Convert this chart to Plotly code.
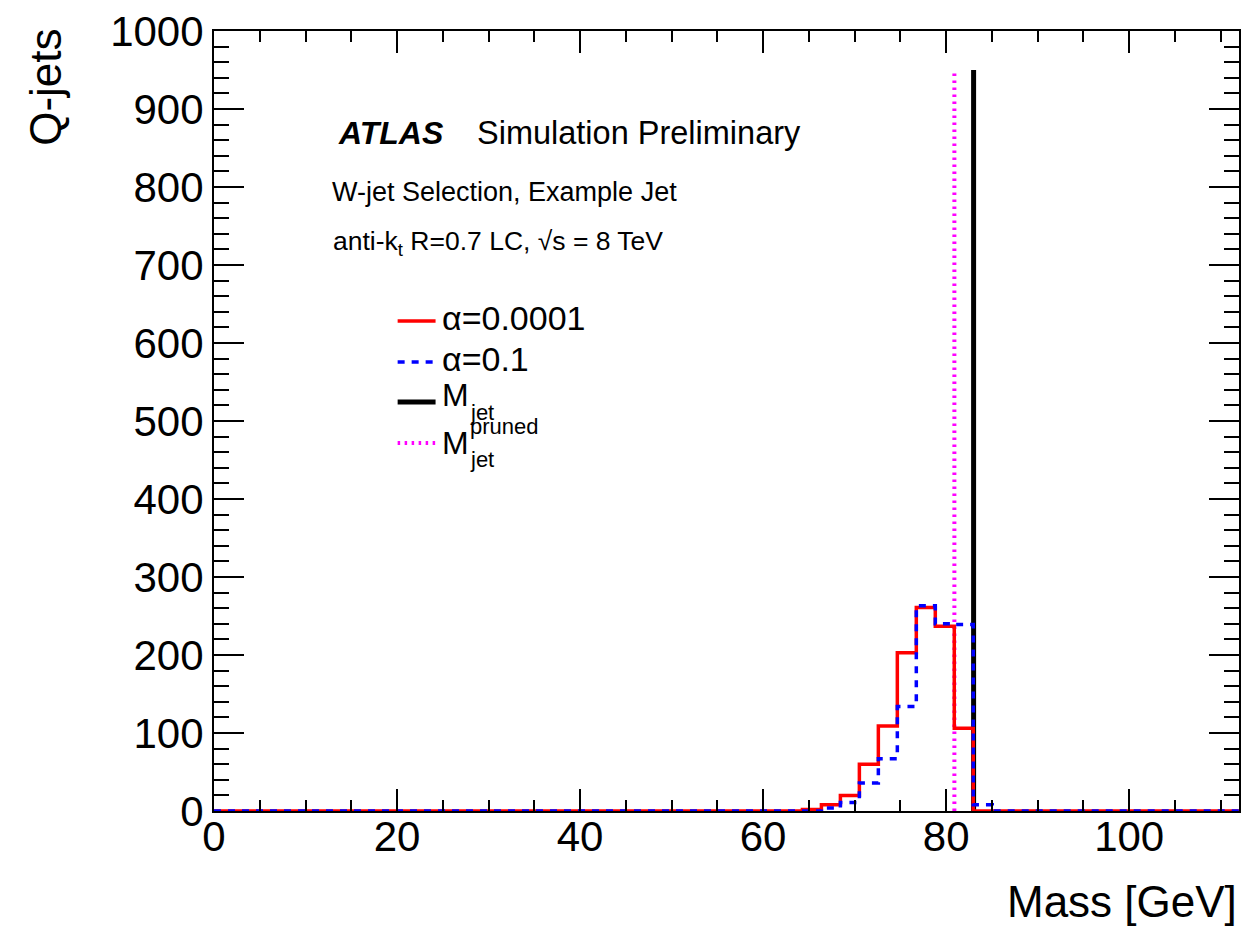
import plotly.graph_objects as go

# ---------------- data ----------------
x_min, x_max, n_bins = 0.0, 112.0, 54
bin_width = (x_max - x_min) / n_bins
bin_edges = [x_min + i * bin_width for i in range(n_bins + 1)]

# Q-jet mass distributions (counts per bin, 54 bins over 0-112 GeV)
counts_alpha_0001 = [0] * 31 + [2, 8, 20, 60, 109, 203, 261, 237, 106] + [0] * 14
counts_alpha_01 = [0] * 32 + [4, 11, 36, 67, 134, 263, 240, 239, 8] + [0] * 13

m_jet = 83.0
m_jet_pruned = 80.9
marker_line_height = 950

x_ticks = [0, 20, 40, 60, 80, 100]
y_ticks = [0, 100, 200, 300, 400, 500, 600, 700, 800, 900, 1000]

# ---------------- styling helpers ----------------
FONT = "Liberation Sans"
FIG_W, FIG_H = 1247, 928
PX_L, PX_R, PY_T, PY_B = 214, 1241, 31, 811  # plot area in pixels


def px(x):
    return (x - PX_L) / (PX_R - PX_L)


def py(y):
    return (PY_B - y) / (PY_B - PY_T)


def step(counts):
    return bin_edges, list(counts) + [counts[-1]]


fig = go.Figure()

RED = dict(color="#ff0000", width=3.5)
BLUE = dict(color="#0000ff", width=3.5, dash="7px,7px")
BLACK = dict(color="#000000", width=5)
MAGENTA = dict(color="#ff00ff", width=4, dash="2.5px,4.5px")

fig.add_trace(go.Scatter(x=[m_jet_pruned, m_jet_pruned], y=[0, marker_line_height],
                         mode="lines", line=MAGENTA, showlegend=False, hoverinfo="skip"))
fig.add_trace(go.Scatter(x=[m_jet, m_jet], y=[0, marker_line_height],
                         mode="lines", line=BLACK, showlegend=False, hoverinfo="skip"))
xr, yr = step(counts_alpha_0001)
fig.add_trace(go.Scatter(x=xr, y=yr, mode="lines", line=dict(**RED, shape="hv"),
                         showlegend=False, name="α=0.0001"))
xb, yb = step(counts_alpha_01)
fig.add_trace(go.Scatter(x=xb, y=yb, mode="lines", line=dict(**BLUE, shape="hv"),
                         showlegend=False, name="α=0.1"))

annotations = []


def text(x, y, s, size, xanchor="left", yanchor="middle", angle=0):
    annotations.append(dict(x=px(x), y=py(y), xref="paper", yref="paper", text=s,
                            showarrow=False, xanchor=xanchor, yanchor=yanchor,
                            textangle=angle, borderpad=0,
                            font=dict(family=FONT, size=size, color="black")))


# labels
text(337, 133, "<b><i>ATLAS</i></b>", 32)
text(477, 133, "Simulation Preliminary", 32.5)
text(331, 192, "W-jet Selection, Example Jet", 27)
text(332, 243, "anti-k<sub>t</sub> R=0.7 LC, √s = 8 TeV", 26.5)

# custom legend
shapes = []


def legline(y, style):
    d = dict(type="line", xref="paper", yref="paper", x0=px(398), x1=px(436),
             y0=py(y), y1=py(y), line=dict(color=style["color"], width=style["width"]))
    if "dash" in style:
        d["line"]["dash"] = style["dash"]
    shapes.append(d)


legline(321, RED)
legline(362, BLUE)
legline(402, BLACK)
legline(443, MAGENTA)
text(441, 318, "α=0.0001", 34)
text(441, 359, "α=0.1", 34)
text(441, 395, "M", 32)
text(469, 412, "jet", 22)
text(441, 443, "M", 32)
text(469, 426, "pruned", 22)
text(469, 459, "jet", 22)

# axis titles
text(1240, 901, "Mass [GeV]", 44, xanchor="right")
text(45, 28, "Q-jets", 44, xanchor="center", yanchor="top", angle=-90)

axis_common = dict(showline=True, linecolor="black", linewidth=2, mirror="allticks",
                   ticks="inside", tickcolor="black", tickwidth=2,
                   showgrid=False, zeroline=False, ticklabeloverflow="allow",
                   tickfont=dict(family=FONT, size=42, color="black"))

fig.update_layout(
    width=FIG_W, height=FIG_H,
    margin=dict(l=PX_L, r=FIG_W - PX_R, t=PY_T, b=FIG_H - PY_B),
    plot_bgcolor="white", paper_bgcolor="white",
    xaxis=dict(range=[x_min, x_max], tickvals=x_ticks, ticklen=22, ticklabelstandoff=-12,
               minor=dict(dtick=5, tick0=0, ticks="inside", ticklen=11, tickwidth=1.5, tickcolor="black"),
               **axis_common),
    yaxis=dict(range=[0, 1000], tickvals=y_ticks, ticklen=30,
               minor=dict(dtick=20, tick0=0, ticks="inside", ticklen=15, tickwidth=1.5, tickcolor="black"),
               **axis_common),
    annotations=annotations,
    shapes=shapes,
    showlegend=False,
)

fig.write_html("out.html", config={"displayModeBar": False},
               post_script="document.body.style.margin='0';")
